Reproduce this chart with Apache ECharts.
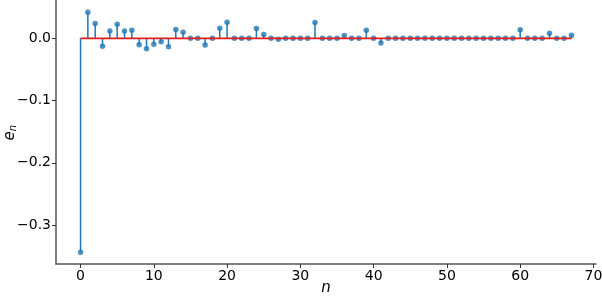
<!DOCTYPE html>
<html>
<head>
<meta charset="utf-8">
<script src="https://cdn.jsdelivr.net/npm/echarts@6/dist/echarts.min.js"></script>
<style>
html,body{margin:0;padding:0;background:#fff;overflow:hidden;}
#chart{width:602px;height:296px;}
</style>
</head>
<body>
<div id="chart"></div>
<script>
// ---- data ----
var nValues = [0,1,2,3,4,5,6,7,8,9,10,11,12,13,14,15,16,17,18,19,20,21,22,23,24,25,26,27,28,29,30,31,32,33,34,35,36,37,38,39,40,41,42,43,44,45,46,47,48,49,50,51,52,53,54,55,56,57,58,59,60,61,62,63,64,65,66,67];
var eValues = [-0.3435,0.0418,0.0236,-0.0129,0.0118,0.0225,0.0118,0.0129,-0.0102,-0.0166,
  -0.0097,-0.0054,-0.0134,0.0140,0.0097,0,0,-0.0107,0,0.0161,
  0.0258,0,0,0,0.0156,0.0059,0,-0.0016,0,0,
  0,0,0.0252,0,0,0,0.0043,0,0,0.0129,
  0,-0.0075,0,0,0,0,0,0,0,0,
  0,0,0,0,0,0,0,0,0,0,
  0.0139,0,0,0,0.0080,0,0,0.0048];
var xTicks = [0,10,20,30,40,50,60,70];
var yTicks = [-0.3,-0.2,-0.1,0.0];
var baselineY = 0;

var points = nValues.map(function(n,i){return [n,eValues[i]];});
var baseline = [[nValues[0],baselineY],[nValues[nValues.length-1],baselineY]];

var chart = echarts.init(document.getElementById('chart'), null, {renderer:'canvas'});
var font = 'DejaVu Sans';
chart.setOption({
  animation:false,
  backgroundColor:'#fff',
  grid:{left:56,right:6,top:0,bottom:32,containLabel:false,outerBoundsMode:'none'},
  xAxis:{
    type:'value', min:-3.35, max:70.35,
    axisLine:{show:true,onZero:false,lineStyle:{color:'#555',width:1.5}},
    axisTick:{show:true,length:4,customValues:xTicks,lineStyle:{color:'#333',width:1}},
    axisLabel:{customValues:xTicks,color:'#000',fontSize:14,fontFamily:font,margin:5},
    splitLine:{show:false}
  },
  yAxis:{
    type:'value', min:-0.3625, max:0.0615,
    axisLine:{show:true,onZero:false,lineStyle:{color:'#555',width:1.5}},
    axisTick:{show:true,length:4,customValues:yTicks,lineStyle:{color:'#333',width:1}},
    axisLabel:{customValues:yTicks,color:'#000',fontSize:14,fontFamily:font,margin:5,
      formatter:function(v){var s=Math.abs(v).toFixed(1);return (v<-1e-9?'\u2212':'')+s;}},
    splitLine:{show:false}
  },
  graphic:[
    {type:'group',x:10,y:132,rotation:Math.PI/2,children:[
      {type:'text',x:-4,y:0,style:{text:'e',font:'italic 15px "DejaVu Sans"',fill:'#000',align:'center',verticalAlign:'middle'}},
      {type:'text',x:4,y:3,style:{text:'n',font:'italic 10px "DejaVu Sans"',fill:'#000',align:'center',verticalAlign:'middle'}}
    ]},
    {type:'text',x:326,y:288,style:{text:'n',font:'italic 15px "DejaVu Sans"',fill:'#000',align:'center',verticalAlign:'middle'}}
  ],
  series:[
    {
      type:'custom',
      data:points,
      z:2,
      renderItem:function(params,api){
        var p0=api.coord([api.value(0),baselineY]);
        var p1=api.coord([api.value(0),api.value(1)]);
        return {type:'line',shape:{x1:p0[0],y1:p0[1],x2:p1[0],y2:p1[1]},
          style:{stroke:'#1f77b4',lineWidth:1.5}};
      },
      encode:{x:0,y:1}
    },
    {
      type:'scatter',data:points,symbol:'circle',symbolSize:5.5,z:3,
      itemStyle:{color:'#1f77b4'}
    },
    {
      type:'line',data:baseline,symbol:'none',z:4,
      lineStyle:{color:'#e41a1c',width:1.8}
    }
  ]
});
</script>
</body>
</html>
